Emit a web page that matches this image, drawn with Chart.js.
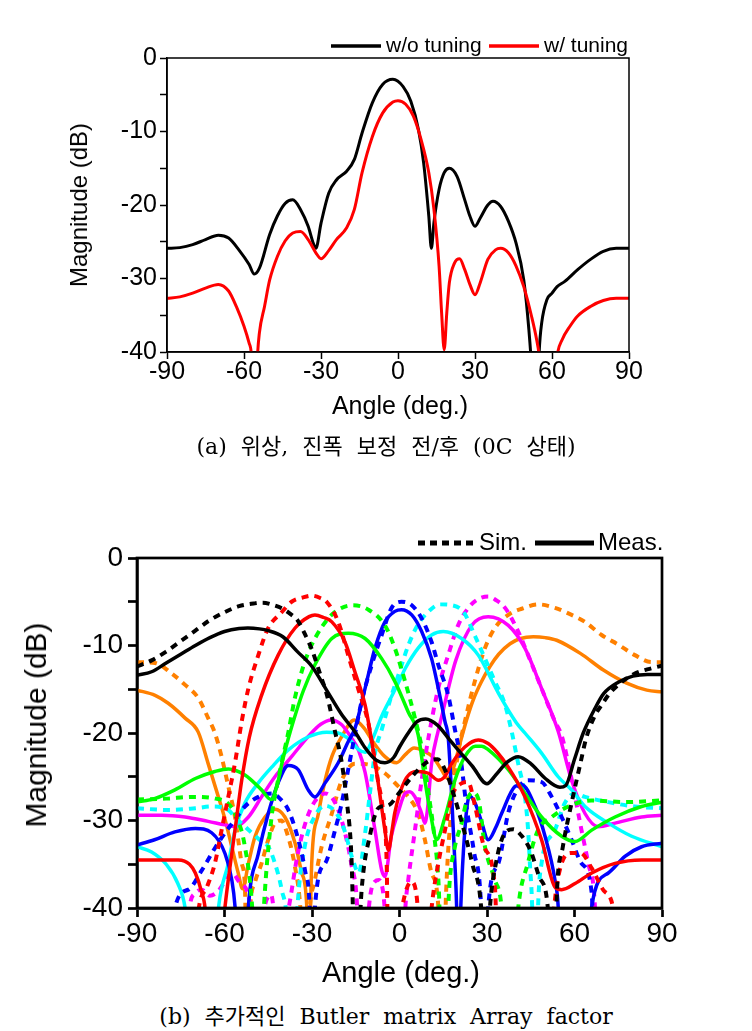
<!DOCTYPE html>
<html>
<head>
<meta charset="utf-8">
<script src="https://cdn.jsdelivr.net/npm/chart.js"></script>
<style>
body{margin:0;width:752px;height:1031px;position:relative;background:#fff;overflow:hidden}
canvas{position:absolute;left:0}
.t{position:absolute;font-family:"Liberation Sans",Arial,sans-serif;color:#000;white-space:nowrap;line-height:1;transform:translate(-50%,-50%)}
.rot{transform:translate(-50%,-50%) rotate(-90deg)}
.cap{position:absolute;font-family:"DejaVu Serif","Noto Sans CJK KR",serif;color:#000;white-space:pre;line-height:1;transform:translate(-50%,-50%);font-size:22px;word-spacing:7px}
</style>
</head>
<body>
<canvas id="chartA" width="752" height="440" style="top:0"></canvas>
<canvas id="chartB" width="752" height="500" style="top:500px"></canvas>

<div class="t rot" style="left:79px;top:205px;font-size:24px">Magnitude (dB)</div>
<div class="t" style="left:400px;top:405px;font-size:25px">Angle (deg.)</div>
<div class="cap" style="left:386px;top:447px">(a) 위상, 진폭 보정 전/후 (0C 상태)</div>

<div class="t rot" style="left:36px;top:725px;font-size:30px">Magnitude (dB)</div>
<div class="t" style="left:401px;top:972px;font-size:29px">Angle (deg.)</div>
<div class="cap" style="left:386px;top:1017px">(b) 추가적인 Butler matrix Array factor</div>

<script>
// tick values
const xTicks = [-90,-60,-30,0,30,60,90];
const yTicks = [-40,-35,-30,-25,-20,-15,-10,-5,0];

// (a) angle [deg], magnitude [dB]
const woTuning = [[-90,-25.9],[-85,-25.8],[-80,-25.4],[-75,-24.7],[-70,-24.1],[-66,-24.5],[-62,-26.1],[-58,-28.1],[-56,-29.4],[-54,-28.6],[-50,-24.0],[-47,-21.5],[-44,-19.8],[-41,-19.3],[-38,-20.6],[-35,-22.9],[-33,-25.2],[-32,-25.9],[-30,-22.5],[-27,-18.4],[-24,-16.6],[-20,-15.4],[-17,-13.8],[-14,-10.2],[-10,-6.1],[-6,-3.6],[-2,-2.9],[2,-3.9],[5,-5.9],[8,-9.8],[10,-14.3],[12,-21.5],[13,-25.9],[14,-22.4],[16,-17.9],[18,-15.6],[20,-15.0],[23,-16.1],[26,-19.3],[28,-21.5],[30,-22.9],[32,-21.8],[35,-20.0],[37,-19.5],[40,-20.2],[43,-22.2],[46,-25.2],[49,-30.2],[51,-37],[52,-42],[53.5,-55],[55,-40],[56,-36],[58,-32.9],[60,-32],[62,-31.1],[65,-30.4],[70,-28.8],[75,-27.4],[80,-26.3],[85,-25.9],[90,-25.9]];
const wTuning = [[-90,-32.7],[-85,-32.5],[-80,-32],[-75,-31.3],[-70,-30.8],[-66,-31.7],[-63,-33.8],[-60,-36.5],[-58,-38.8],[-57,-41],[-56,-55],[-54.8,-41],[-54,-37.4],[-52,-33.8],[-50,-30.2],[-47,-27],[-44,-24.9],[-41,-23.8],[-38,-23.6],[-35,-24.7],[-32,-26.5],[-30,-27.3],[-27,-26.2],[-24,-24.7],[-20,-23.1],[-17,-20.6],[-14,-15.6],[-10,-10.7],[-6,-7.5],[-2,-6.0],[0,-5.8],[3,-6.3],[6,-7.9],[9,-11.1],[12,-15.6],[14,-20.6],[16,-28.3],[17,-34.7],[18,-39.7],[19,-34.7],[20,-30.6],[22,-27.9],[24,-27.3],[26,-28.8],[28,-30.8],[30,-32.2],[32,-30.6],[35,-27.4],[38,-26.1],[40,-25.9],[43,-26.5],[46,-28.3],[49,-31.1],[52,-35.1],[54,-38.3],[55,-40.5],[58,-55],[62,-40.5],[64,-38.3],[67,-36.5],[70,-35.1],[75,-33.8],[80,-33],[85,-32.7],[90,-32.7]];

// (b) simulated / measured beams
const blackSim = [[-90,-12.4],[-85,-11.7],[-80,-10.7],[-75,-9.5],[-70,-8.3],[-65,-7.1],[-60,-6.2],[-55,-5.5],[-50,-5.2],[-47,-5.1],[-43,-5.4],[-40,-5.8],[-37,-6.5],[-35,-7.1],[-32,-9],[-30,-10.5],[-27,-13.5],[-25,-15.5],[-22,-20],[-20,-23],[-18,-28],[-16.5,-34],[-15,-50],[-13,-38],[-10,-31.5],[-7,-28.5],[-4,-28.3],[0,-26.8],[3,-25.5],[7,-24],[10,-23.2],[13,-23],[16,-24.5],[19,-27.5],[22,-31],[25,-35],[28,-40],[29.5,-50],[31,-40],[33,-35],[36,-31.5],[39,-31],[42,-31.8],[45,-33.5],[48,-36.5],[51,-40.5],[52.5,-55],[54,-38],[56,-33],[59,-28],[62,-23.5],[64,-20.6],[67,-18],[69.3,-16.8],[72,-15.5],[75,-14.5],[80.7,-13.2],[86.4,-12.6],[90,-12.3]];
const blackMeas = [[-90,-13.4],[-85,-13],[-80,-12],[-75,-11],[-70,-10],[-65,-9.1],[-60,-8.4],[-55,-8.05],[-52,-8],[-48,-8.1],[-45,-8.3],[-40,-9],[-35,-10.7],[-30,-12.4],[-25,-15.1],[-20,-17.8],[-15,-20],[-12,-21.6],[-8,-23.1],[-5,-23.4],[-2,-22.8],[0,-21.6],[3,-20],[6,-18.7],[9,-18.4],[13,-19.1],[17,-20.7],[20,-21.9],[25,-23.8],[30,-25.8],[33,-24.8],[37,-23.3],[40.7,-22.7],[45,-23.5],[50,-25.2],[55,-26.2],[57,-26],[60,-23],[63,-20],[67,-17.2],[70,-15.5],[75,-14.2],[80,-13.5],[85,-13.3],[90,-13.3]];
const redSim = [[-90,-55],[-72,-55],[-69,-40.5],[-66,-37.6],[-63.3,-34.9],[-61,-31.1],[-58.7,-27.3],[-56.4,-23.4],[-54,-18.5],[-51.8,-14.9],[-48.4,-11.1],[-45,-8],[-40.4,-6.2],[-37,-5],[-33,-4.5],[-30,-4.3],[-27,-4.6],[-25,-5],[-21,-7.3],[-17.6,-11.1],[-14.2,-14.9],[-10.8,-18.7],[-9,-22],[-7.4,-25.4],[-5.6,-29.1],[-4.4,-34.9],[-3.5,-55],[0,-42],[2,-38.3],[4,-37],[6,-39],[7.5,-55],[11,-40],[13.3,-34.9],[15.6,-31.1],[17.9,-27.3],[21,-25.8],[23.5,-25.6],[26,-28.5],[29,-33],[32.7,-37.6],[34.5,-55],[50,-55],[53,-40],[55.6,-34.9],[59,-33.7],[62,-33.7],[66,-35.5],[70,-38],[73.5,-40.5],[76,-55],[90,-55]];
const redMeas = [[-90,-34.5],[-80,-34.5],[-75.8,-34.5],[-72,-35],[-70,-36],[-68,-38],[-66.5,-40.5],[-64,-55],[-61,-44],[-59.8,-39.8],[-58,-35],[-56.4,-31.1],[-54.1,-25.4],[-51.5,-20.5],[-47.3,-15.7],[-41.6,-11.1],[-35.8,-8],[-31,-6.7],[-29,-6.5],[-26,-6.8],[-23.2,-7.3],[-18.7,-9.6],[-15.3,-13],[-11.8,-16.8],[-9.5,-21],[-7.3,-25.7],[-5,-31.1],[-3.8,-33.4],[-2.5,-31],[-1.6,-29.1],[1.9,-25.4],[6.4,-24.4],[9.9,-24.6],[13.3,-25.4],[15.5,-25],[17.9,-23.5],[22.4,-21.6],[27,-20.8],[30.4,-21.2],[33.5,-22.2],[37.3,-23.9],[43,-27.3],[48.7,-32.2],[53.3,-37.6],[55.6,-37.9],[60.2,-37.2],[65.9,-36],[73.9,-34.9],[83,-34.5],[90,-34.5]];
const greenSim = [[-90,-27.6],[-80,-27.5],[-71,-27.3],[-63,-27.5],[-59,-28],[-56,-29.5],[-53,-33],[-50.5,-40],[-48.5,-55],[-46.5,-40],[-44,-30],[-42,-26],[-40.4,-23.4],[-38.1,-19.9],[-35.8,-15.9],[-32.4,-11.8],[-29,-9.2],[-24.4,-6.9],[-21,-5.9],[-16,-5.4],[-10.7,-5.9],[-5,-7.7],[-1.6,-10.3],[1.9,-14.1],[5.3,-18.3],[7.8,-22],[10,-27],[12,-32],[13.5,-38],[15,-55],[17,-38],[19,-33],[21.3,-30.3],[23,-27.8],[25,-26.8],[27,-27.5],[29.3,-33],[32.7,-36.8],[35,-40],[37.5,-55],[40.7,-40],[44,-34.9],[47.5,-31.1],[52.2,-29.6],[57.9,-28.4],[65.9,-27.7],[77.3,-27.9],[90,-27.7]];
const greenMeas = [[-90,-27.9],[-84,-27.5],[-77,-26.5],[-70,-25.2],[-63.3,-24.4],[-58.7,-24.1],[-53,-24.8],[-47.3,-26.5],[-44,-27.6],[-42,-26],[-40,-23],[-38.1,-20.6],[-33,-15.2],[-29,-12.2],[-23.2,-9.2],[-17.6,-8.6],[-11.8,-9.2],[-6.1,-11.5],[-1.6,-14.1],[3,-17.6],[6.4,-20.2],[8.7,-25.4],[11,-29.9],[12.7,-32.2],[15.6,-29.6],[19,-25.4],[22.4,-22.7],[26,-21.5],[28.2,-21.5],[30.4,-21.9],[37.3,-24.2],[43,-26.9],[48.7,-29.6],[55.6,-31.8],[60.2,-32.4],[65.9,-31.1],[73.9,-29.6],[83,-28.4],[90,-27.9]];
const blueSim = [[-90,-55],[-79,-55],[-77,-40],[-72.4,-37.9],[-67.8,-35.7],[-63,-33],[-59.8,-31.4],[-56.4,-29.9],[-53,-28.4],[-48.4,-27.3],[-43.8,-26.9],[-40.4,-27.7],[-38.1,-28.8],[-34.7,-32.2],[-32.4,-35.7],[-30.8,-40],[-29.7,-55],[-29,-40],[-25.5,-34.9],[-22.1,-31.1],[-19.8,-28],[-17.6,-24.2],[-15.3,-20.2],[-13,-16.4],[-9.5,-12.2],[-6.1,-8.8],[-2.7,-5.7],[0.7,-5],[4.2,-5.4],[7.6,-6.9],[11,-9.6],[13.3,-12.2],[16.7,-15.7],[19,-19.6],[21,-23],[23,-28.5],[25.5,-33.5],[28,-40],[29.3,-55],[30.4,-40],[33.9,-34.9],[37.3,-29.1],[40.7,-26.3],[44.1,-25.4],[48.7,-25.6],[52.2,-27.3],[55.6,-29.6],[59,-32.2],[62.4,-34.9],[65.9,-38.3],[67.5,-55],[90,-55]];
const blueMeas = [[-90,-32.8],[-84,-32.2],[-77,-31.3],[-70,-30.9],[-64.4,-31.4],[-59.8,-33.8],[-57.5,-36.8],[-56.4,-39.8],[-55,-48],[-53,-48],[-51.8,-39.8],[-48.4,-33.8],[-45,-29.2],[-41.6,-25.7],[-38.1,-23.7],[-34.7,-24.2],[-31.3,-26.5],[-29,-27.3],[-25.5,-25.7],[-21,-23.4],[-17.6,-21],[-15.3,-19.5],[-11.8,-14.9],[-8.4,-10.3],[-5,-7.3],[-1.6,-6.1],[0.7,-5.9],[4.2,-6.5],[7.6,-8.4],[11,-11.5],[13.3,-14.9],[15.6,-18.7],[16.7,-20.5],[17.9,-27.3],[19,-34.9],[19.6,-40],[20.2,-50],[21,-40],[22.4,-31.1],[24,-27.2],[25.9,-28],[28,-30],[30.4,-32.2],[33,-30.8],[35,-29.2],[39.6,-26.1],[41.9,-25.9],[46.5,-28.4],[49.9,-31.8],[53.3,-36.8],[54.4,-39.8],[55.5,-50],[64.5,-50],[65.9,-39.8],[71.6,-36],[77.3,-34.1],[83,-33],[90,-32.6]];
const cyanSim = [[-90,-28.6],[-79,-28.8],[-70,-28.6],[-64.4,-28.4],[-58.7,-28.8],[-56.4,-29.6],[-52,-31],[-48,-32.2],[-45,-33],[-42.7,-34.9],[-40.4,-37.9],[-38.5,-42],[-37,-55],[-35,-40],[-32.5,-33],[-29,-29.5],[-25.5,-28.3],[-22,-29],[-19,-31],[-16,-34.5],[-14,-36],[-12,-32],[-10,-26.5],[-8.4,-22.3],[-6,-19.5],[-3,-16],[0,-13],[3,-10],[6,-7.8],[10,-6.1],[14,-5.3],[18,-5.4],[22,-6.2],[26,-9],[29.3,-11.5],[32.7,-14.1],[36.2,-16.8],[38.5,-19.9],[40.7,-23.5],[43,-27.3],[44.1,-31.1],[44.7,-34.9],[45.5,-40],[46.5,-55],[47.5,-40],[48.7,-34.9],[53.3,-31.1],[56.7,-28],[60.2,-26.9],[63.6,-27.3],[71.6,-27.9],[80.7,-28.4],[90,-28.6]];
const cyanMeas = [[-90,-33],[-85,-33.6],[-80,-35],[-76,-37.2],[-73.5,-40],[-71,-48],[-64,-48],[-62,-39.8],[-58.7,-34.9],[-56.4,-31.1],[-53,-28],[-48.4,-25.7],[-43.8,-23.9],[-38,-21.9],[-31,-20.4],[-25,-19.9],[-21,-20],[-17,-20.8],[-14,-21.9],[-11.8,-22.2],[-9,-20.5],[-6,-18],[-3,-16],[0,-14],[2,-12.6],[6.4,-10.3],[11,-8.8],[15,-8.4],[21.3,-9.2],[27,-11.1],[34,-15.5],[40,-18.8],[43,-20],[48.7,-22.3],[54.4,-25],[59,-26.5],[63.6,-28.4],[71.6,-30.3],[79.6,-31.8],[90,-33]];
const magSim = [[-90,-55],[-75,-55],[-72,-40],[-70,-38.3],[-67.8,-37.9],[-65,-38.6],[-62,-38],[-59,-36.5],[-57.5,-36],[-55,-37],[-51.8,-38.6],[-49,-45],[-46,-39.5],[-44,-38.5],[-41.5,-45],[-38,-40],[-35,-34],[-32,-30],[-29,-27.8],[-25.5,-26.9],[-22,-28],[-19,-31],[-16.5,-35],[-14.5,-40],[-13,-55],[-10.5,-40],[-8.5,-37],[-7,-36.8],[-5.5,-38.5],[-4,-45],[0,-55],[2,-40],[3,-36.8],[5.3,-31.1],[7.6,-25.4],[9.9,-20.6],[13.3,-14.9],[16.7,-11.1],[20.1,-7.7],[23.6,-5.7],[27,-4.7],[30.4,-4.4],[33,-4.8],[36.2,-5.7],[40.7,-8.4],[44.1,-11.1],[48.7,-14.9],[53.3,-18.7],[55.6,-20.3],[57.9,-23.5],[60.2,-27.3],[62.4,-31.1],[64.7,-34.9],[67,-39.8],[68.5,-55],[90,-55]];
const magMeas = [[-90,-29.4],[-81.5,-29.4],[-73.5,-29.6],[-65.6,-30.1],[-59.8,-30.5],[-56.4,-30.7],[-51.8,-29.6],[-47.3,-27.3],[-42.7,-25],[-37,-22.7],[-31.3,-20.4],[-27,-19],[-23.4,-18.5],[-20,-19],[-16.8,-20.4],[-14,-22],[-11.8,-24.5],[-8.4,-31.1],[-6.1,-35.7],[-5,-36.4],[-2.8,-31.8],[-0.4,-29],[1.9,-26.9],[3.5,-26.7],[5.3,-27.3],[7.6,-29.2],[8.7,-30.3],[9.5,-29],[11,-23.5],[13.3,-19.7],[14.4,-18.2],[19.3,-11.7],[25,-7.6],[30.4,-6.7],[37.3,-7.7],[43,-10.3],[48.7,-14.9],[54.4,-19.8],[59,-25.4],[63.6,-29.2],[68.1,-30.7],[73.9,-30.3],[83,-29.6],[90,-29.4]];
const orgSim = [[-90,-11.9],[-83.8,-12],[-78.1,-13.2],[-73.5,-14.5],[-69,-16],[-65.6,-18.3],[-63.3,-20],[-61,-22.7],[-58.7,-26.1],[-56.4,-29.6],[-55.3,-32.2],[-54.1,-34.9],[-53,-37.6],[-52.3,-50],[-51.2,-40],[-49.5,-37],[-47.3,-34.9],[-45,-32.2],[-42.7,-30.3],[-40.5,-30],[-38.5,-31.5],[-36,-35],[-34,-40],[-32.5,-50],[-30.8,-40],[-29,-36.8],[-26.7,-33],[-23.2,-29.2],[-19.8,-25.4],[-15.3,-23.5],[-9.5,-23.7],[-5,-24.6],[-0.4,-26.1],[3,-27.3],[6.4,-29.2],[8.7,-32.2],[11,-36],[13.3,-39.8],[14.5,-55],[16,-38],[18,-28],[20,-22.5],[22.4,-18.7],[25.9,-14],[29.3,-10.3],[32.7,-8],[37.3,-6.5],[41.9,-5.8],[47.6,-5.3],[53.3,-5.7],[59,-6.5],[63.6,-7.3],[69.3,-8.8],[75,-9.9],[80.7,-11.1],[86.4,-11.9],[90,-11.9]];
const orgMeas = [[-90,-15.1],[-83.8,-15.7],[-79.3,-16.6],[-73.5,-18.3],[-69,-19.9],[-65.6,-23.5],[-62.1,-27.3],[-59.8,-29.9],[-57.5,-33],[-55.3,-36],[-53.8,-37.8],[-51.8,-34.9],[-49.5,-31.8],[-46.1,-29.6],[-42.7,-28.7],[-39.3,-29.6],[-35.8,-32.6],[-33.5,-36],[-31.8,-39.8],[-31.3,-48],[-30.5,-40],[-30.1,-34.9],[-27.8,-29.2],[-25.5,-25.4],[-23.2,-22.7],[-19.8,-20.4],[-15.5,-18.5],[-12,-19.5],[-9.5,-20.8],[-5,-22.7],[-1,-23.4],[1.9,-22.5],[5,-21.7],[8,-22],[11.6,-22.8],[14.4,-24.2],[16.5,-25.2],[18.5,-24],[20.5,-21.5],[23,-18.5],[25.3,-16.2],[28,-14.2],[31,-12.4],[34,-11],[37.9,-9.8],[41.5,-9.2],[45.9,-9],[50,-9.1],[53.9,-9.4],[62,-10.9],[69.9,-12.8],[77.9,-14.3],[84.8,-15.1],[90,-15.3]];

const pts = a => a.map(p => ({x:p[0], y:p[1]}));

function line(data, color, width, dash){
  return {data:pts(data), borderColor:color, borderWidth:width, borderDash:dash||[],
    pointRadius:0, fill:false, tension:0.4, cubicInterpolationMode:'monotone'};
}

const frame = {
  id:'frame',
  afterDatasetsDraw(c, args, o){
    const a=c.chartArea, x=c.ctx;
    x.save(); x.strokeStyle='#000'; x.lineWidth=o.w;
    x.strokeRect(a.left, a.top, a.right-a.left, a.bottom-a.top);
    x.restore();
  }
};

const key = {
  id:'key',
  afterDraw(c, args, o){
    const x=c.ctx;
    x.save(); x.font=o.font; x.textBaseline='middle'; x.fillStyle='#000';
    o.items.forEach(it=>{
      x.beginPath(); x.setLineDash(it.dash||[]); x.strokeStyle=it.color; x.lineWidth=it.w;
      x.moveTo(it.x1,o.y); x.lineTo(it.x2,o.y); x.stroke();
      x.setLineDash([]); x.fillText(it.text, it.tx, o.y);
    });
    x.restore();
  }
};

function axes(fs, tl, pad, bw, yw, xh){
  const font = {family:'"Liberation Sans", Arial, sans-serif', size:fs};
  return {
    x:{type:'linear', min:-90, max:90,
      afterBuildTicks:s=>{s.ticks=xTicks.map(v=>({value:v}));},
      afterFit:s=>{s.height=xh;},
      ticks:{font, color:'#000', padding:pad.x, maxRotation:0, autoSkip:false},
      grid:{drawOnChartArea:false, tickLength:tl, tickColor:'#000', tickWidth:bw},
      border:{color:'#000', width:bw}},
    y:{type:'linear', min:-40, max:0,
      afterBuildTicks:s=>{s.ticks=yTicks.map(v=>({value:v}));},
      afterFit:s=>{s.width=yw;},
      ticks:{font, color:'#000', padding:pad.y, callback:v=>(v%10===0?v:'')},
      grid:{drawOnChartArea:false, tickLength:tl, tickColor:'#000', tickWidth:bw},
      border:{color:'#000', width:bw}}
  };
}

new Chart(document.getElementById('chartA'), {
  type:'line',
  data:{datasets:[
    line(wTuning,'#ff0000',3),
    line(woTuning,'#000000',3)
  ]},
  options:{
    responsive:false, animation:false, devicePixelRatio:1,
    layout:{padding:{left:0, right:123, top:58, bottom:0}},
    scales:axes(25, 7, {x:-2, y:3}, 1.5, 167, 88),
    plugins:{legend:{display:false}, tooltip:{enabled:false},
      frame:{w:1.5},
      key:{font:'21px "Liberation Sans", Arial, sans-serif', y:46, items:[
        {x1:331, x2:381, tx:386, color:'#000', w:3.5, text:'w/o tuning'},
        {x1:489, x2:539, tx:544, color:'#ff0000', w:3.5, text:'w/ tuning'}
      ]}}
  },
  plugins:[frame, key]
});

const DASH = [7,6];
const beams = [
  [blackSim,'#000000',true],[blackMeas,'#000000',false],
  [redSim,'#ff0000',true],[redMeas,'#ff0000',false],
  [greenSim,'#00ff00',true],[greenMeas,'#00ff00',false],
  [blueSim,'#0000ff',true],[blueMeas,'#0000ff',false],
  [cyanSim,'#00ffff',true],[cyanMeas,'#00ffff',false],
  [magSim,'#ff00ff',true],[magMeas,'#ff00ff',false],
  [orgSim,'#ff8000',true],[orgMeas,'#ff8000',false]
];

new Chart(document.getElementById('chartB'), {
  type:'line',
  data:{datasets:beams.map(b=>b[2]?line(b[0],b[1],4,DASH):line(b[0],b[1],3.5))},
  options:{
    responsive:false, animation:false, devicePixelRatio:1,
    layout:{padding:{left:0, right:90, top:58, bottom:0}},
    scales:axes(28, 9, {x:0, y:5}, 2.7, 137, 92),
    plugins:{legend:{display:false}, tooltip:{enabled:false},
      frame:{w:2.7},
      key:{font:'24px "Liberation Sans", Arial, sans-serif', y:43, items:[
        {x1:418, x2:473, tx:479, color:'#000', w:5, dash:[7,5], text:'Sim.'},
        {x1:535, x2:594, tx:598, color:'#000', w:5, text:'Meas.'}
      ]}}
  },
  plugins:[frame, key]
});
</script>
</body>
</html>
